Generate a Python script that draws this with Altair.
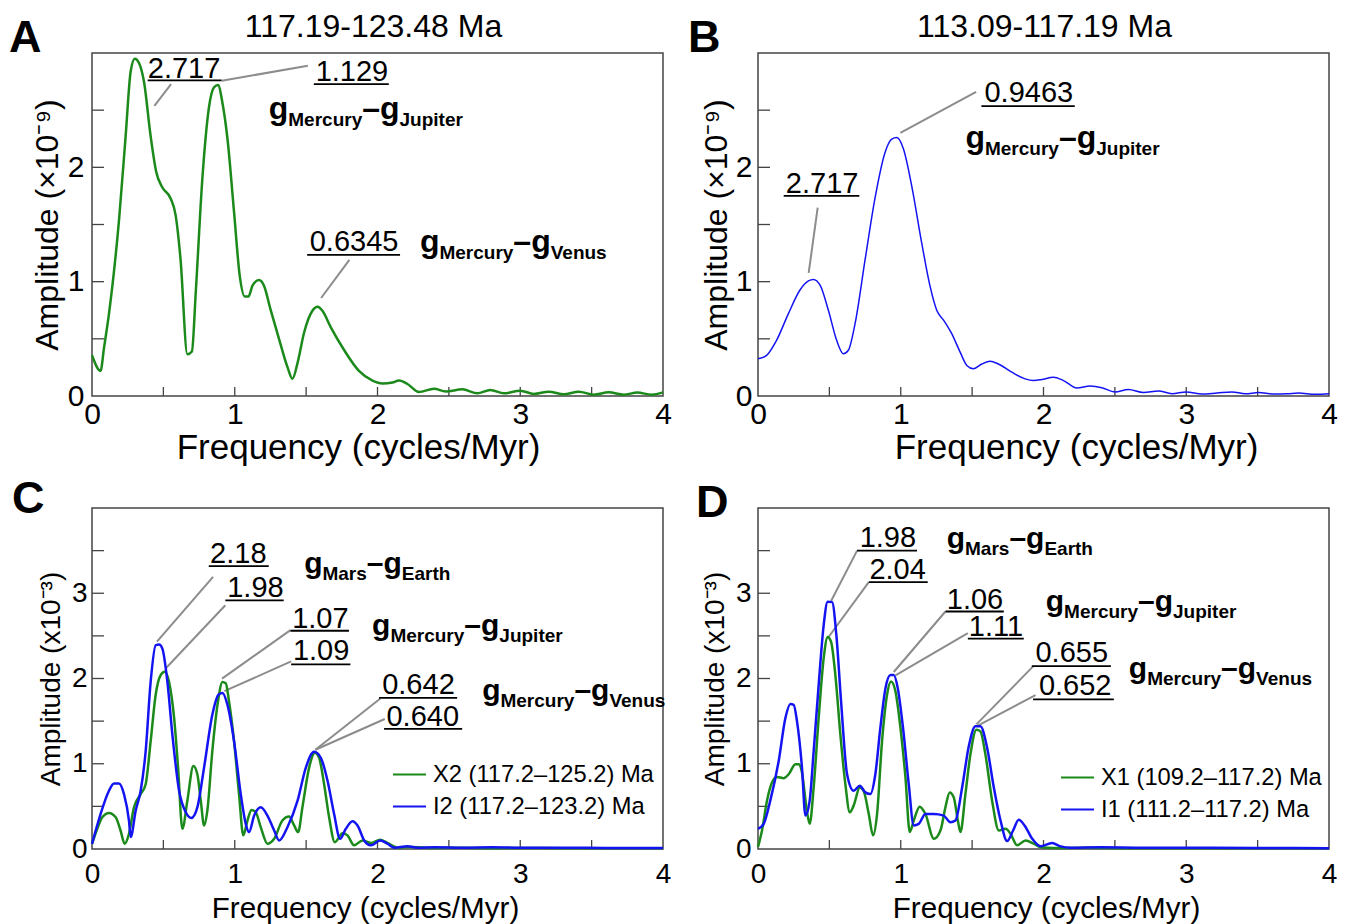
import altair as alt
import pandas as pd

FONT = "Liberation Sans"
GREEN = "#1b8a1b"
BLUE = "#1414f2"
GRAY = "#8c8c8c"
FRAME = "#444444"

W = 571
H_TOP = 343
H_BOT = 341

# ---------------- data: panel A (117.19-123.48 Ma) ----------------
A_FREQ = [0, 0.06, 0.084, 0.12, 0.19, 0.236, 0.271, 0.30, 0.33, 0.364, 0.41, 0.45, 0.49, 0.55,
          0.586, 0.62, 0.668, 0.70, 0.727, 0.773, 0.82, 0.855, 0.883, 0.913, 0.949, 0.995,
          1.035, 1.07, 1.096, 1.124, 1.17, 1.205, 1.25, 1.31, 1.37, 1.404, 1.44, 1.486, 1.544,
          1.58, 1.614, 1.673, 1.767, 1.87, 1.965, 2.035, 2.105, 2.15, 2.21, 2.29, 2.396, 2.478,
          2.594, 2.70, 2.79, 2.886, 3.0, 3.095, 3.2, 3.305, 3.41, 3.515, 3.62, 3.725, 3.82,
          3.92, 4.0]
A_AMP = [0.357, 0.22, 0.42, 0.73, 1.55, 2.28, 2.84, 2.95, 2.91, 2.75, 2.28, 1.96, 1.83, 1.73,
         1.58, 1.20, 0.365, 0.39, 0.91, 1.90, 2.53, 2.70, 2.72, 2.57, 2.25, 1.61,
         1.05, 0.87, 0.87, 0.965, 1.015, 0.965, 0.76, 0.50, 0.25, 0.15, 0.29, 0.555, 0.745,
         0.78, 0.745, 0.60, 0.40, 0.22, 0.135, 0.11, 0.118, 0.135, 0.105, 0.035, 0.064, 0.04,
         0.058, 0.023, 0.053, 0.023, 0.047, 0.018, 0.038, 0.015, 0.038, 0.012, 0.032, 0.012, 0.03,
         0.012, 0.032]

# ---------------- data: panel B (113.09-117.19 Ma) ----------------
B_FREQ = [0, 0.06, 0.13, 0.213, 0.294, 0.353, 0.388, 0.435, 0.493, 0.551, 0.598, 0.633, 0.68,
          0.75, 0.82, 0.89, 0.937, 0.972, 1.019, 1.077, 1.147, 1.206, 1.252, 1.30, 1.357, 1.416,
          1.463, 1.509, 1.568, 1.626, 1.684, 1.778, 1.871, 1.93, 1.988, 2.07, 2.14, 2.234, 2.327,
          2.409, 2.5, 2.595, 2.70, 2.805, 2.9, 3.0, 3.11, 3.215, 3.32, 3.414, 3.507, 3.612, 3.706,
          3.787, 3.904, 4.0]
B_AMP = [0.325, 0.355, 0.487, 0.72, 0.927, 1.006, 1.02, 0.97, 0.75, 0.487, 0.37, 0.40, 0.633,
         1.19, 1.733, 2.13, 2.246, 2.26, 2.16, 1.836, 1.337, 0.956, 0.75, 0.663, 0.545, 0.384,
         0.267, 0.238, 0.28, 0.305, 0.28, 0.208, 0.15, 0.135, 0.144, 0.164, 0.135, 0.07, 0.088,
         0.073, 0.035, 0.056, 0.03, 0.044, 0.02, 0.035, 0.018, 0.026, 0.035, 0.02, 0.03, 0.018, 0.02,
         0.026, 0.015, 0.02]

# ---------------- data: panel C ----------------
C_NAMES = ["X2 (117.2–125.2) Ma", "I2 (117.2–123.2) Ma"]
C_X_FREQ = [0, 0.037, 0.072, 0.119, 0.166, 0.20, 0.229, 0.259, 0.294, 0.341, 0.376, 0.411, 0.446,
            0.481, 0.509, 0.54, 0.575, 0.603, 0.633, 0.668, 0.71, 0.738, 0.762, 0.785, 0.808,
            0.843, 0.879, 0.914, 0.937, 0.96, 0.995, 1.03, 1.06, 1.089, 1.117, 1.147, 1.182,
            1.229, 1.276, 1.334, 1.381, 1.416, 1.444, 1.474, 1.521, 1.561, 1.591, 1.626, 1.661,
            1.701, 1.755, 1.79, 1.836, 1.895, 1.953, 2.019, 2.08, 2.14, 2.234, 2.4, 2.6, 2.8, 3.0,
            3.3, 3.6, 4.0]
C_X_AMP = [0.06, 0.237, 0.373, 0.423, 0.373, 0.217, 0.062, 0.178, 0.489, 0.644, 0.76, 1.266, 1.81,
           2.04, 2.08, 1.96, 1.54, 0.955, 0.237, 0.567, 0.974, 0.877, 0.567, 0.276, 0.45,
           1.149, 1.69, 1.96, 1.945, 1.73, 1.266, 0.644, 0.16, 0.334, 0.458, 0.431, 0.256,
           0.062, 0.12, 0.334, 0.38, 0.276, 0.198, 0.489, 0.955, 1.13, 1.07, 0.76, 0.373,
           0.08, 0.186, 0.159, 0.043, 0.10, 0.07, 0.109, 0.062, 0.016, 0.023, 0.012, 0.015, 0.01, 0.012,
           0.01, 0.01, 0.01]
C_I_FREQ = [0, 0.06, 0.119, 0.154, 0.189, 0.224, 0.259, 0.271, 0.306, 0.341, 0.376, 0.411, 0.446,
            0.47, 0.493, 0.528, 0.563, 0.61, 0.657, 0.696, 0.738, 0.785, 0.843, 0.886, 0.914,
            0.949, 0.995, 1.042, 1.077, 1.10, 1.136, 1.182, 1.229, 1.276, 1.311, 1.369, 1.44,
            1.498, 1.556, 1.603, 1.65, 1.696, 1.738, 1.778, 1.825, 1.86, 1.907, 1.953, 2.019,
            2.07, 2.117, 2.21, 2.28, 2.4, 2.6, 2.8, 3.0, 3.3, 3.6, 4.0]
C_I_AMP = [0.06, 0.41, 0.683, 0.769, 0.769, 0.644, 0.334, 0.14, 0.45, 0.683, 1.149, 1.964, 2.39,
           2.40, 2.35, 1.964, 1.343, 0.683, 0.431, 0.365, 0.489, 0.955, 1.576, 1.81, 1.83,
           1.69, 1.266, 0.644, 0.295, 0.198, 0.392, 0.489, 0.392, 0.217, 0.10, 0.256, 0.567,
           0.955, 1.14, 1.07, 0.80, 0.41, 0.12, 0.237, 0.326, 0.276, 0.10, 0.043, 0.10,
           0.062, 0.016, 0.031, 0.016, 0.02, 0.015, 0.02, 0.015, 0.015, 0.012, 0.012]

# ---------------- data: panel D ----------------
D_NAMES = ["X1 (109.2–117.2) Ma", "I1 (111.2–117.2) Ma"]
D_X_FREQ = [0, 0.028, 0.063, 0.098, 0.133, 0.18, 0.215, 0.262, 0.285, 0.308, 0.339, 0.362, 0.39,
            0.425, 0.46, 0.488, 0.512, 0.542, 0.577, 0.612, 0.643, 0.67, 0.713, 0.74, 0.776,
            0.806, 0.834, 0.869, 0.904, 0.932, 0.963, 0.998, 1.033, 1.063, 1.091, 1.133, 1.173,
            1.232, 1.278, 1.313, 1.343, 1.371, 1.40, 1.418, 1.453, 1.488, 1.53, 1.558, 1.593,
            1.64, 1.687, 1.734, 1.769, 1.815, 1.874, 1.932, 1.979, 2.07, 2.3, 2.6, 3.0, 3.5, 4.0]
D_X_AMP = [0.023, 0.217, 0.567, 0.78, 0.846, 0.83, 0.877, 0.994, 0.994, 0.897, 0.489, 0.295, 0.722,
           1.537, 2.236, 2.488, 2.43, 2.04, 1.343, 0.76, 0.431, 0.509, 0.722, 0.683, 0.41,
           0.16, 0.41, 1.266, 1.81, 1.964, 1.848, 1.42, 0.839, 0.198, 0.334, 0.497, 0.41,
           0.12, 0.217, 0.489, 0.664, 0.606, 0.334, 0.198, 0.644, 1.11, 1.40, 1.38, 1.11,
           0.567, 0.217, 0.237, 0.179, 0.043, 0.10, 0.062, 0.023, 0.012, 0.015, 0.01, 0.01, 0.01, 0.01]
D_I_FREQ = [0, 0.04, 0.086, 0.145, 0.192, 0.227, 0.25, 0.273, 0.308, 0.332, 0.362, 0.39, 0.425,
            0.46, 0.488, 0.519, 0.549, 0.582, 0.624, 0.67, 0.713, 0.752, 0.787, 0.822, 0.857,
            0.893, 0.928, 0.951, 0.979, 1.016, 1.056, 1.091, 1.126, 1.173, 1.231, 1.301, 1.348,
            1.383, 1.43, 1.477, 1.523, 1.558, 1.605, 1.652, 1.699, 1.745, 1.787, 1.827, 1.867,
            1.921, 1.979, 2.06, 2.12, 2.19, 2.4, 2.7, 3.0, 3.5, 4.0]
D_I_AMP = [0.237, 0.295, 0.567, 1.033, 1.537, 1.70, 1.69, 1.5, 0.955, 0.392, 0.567, 1.149, 1.925,
           2.624, 2.90, 2.896, 2.508, 1.73, 0.877, 0.683, 0.741, 0.664, 0.644, 0.877, 1.42,
           1.887, 2.04, 2.04, 1.887, 1.42, 0.76, 0.276, 0.295, 0.41, 0.41, 0.392, 0.314,
           0.334, 0.722, 1.207, 1.44, 1.44, 1.188, 0.722, 0.334, 0.093, 0.217, 0.342, 0.276,
           0.12, 0.031, 0.07, 0.031, 0.016, 0.02, 0.015, 0.015, 0.012, 0.01]

# ---------------- annotations (text, x, y) in data units ----------------
A_NUMS = [("2.717", 0.645, 2.785), ("1.129", 1.821, 2.757), ("0.6345", 1.836, 1.272)]
A_UNDER = [(0.39, 0.908, 2.76), (1.554, 2.079, 2.728), (1.507, 2.158, 1.234)]
A_LEAD = [(0.437, 2.538, 0.554, 2.728), (0.909, 2.757, 1.512, 2.889), (1.803, 1.19, 1.605, 0.857)]
A_FORM = [(1.238, 2.425, "Mercury", "Jupiter"), (2.297, 1.263, "Mercury", "Venus")]

B_NUMS = [("0.9463", 1.897, 2.571), ("2.717", 0.449, 1.779)]
B_UNDER = [(1.565, 2.219, 2.536), (0.18, 0.71, 1.75)]
B_LEAD = [(0.997, 2.302, 1.528, 2.659), (0.418, 1.647, 0.355, 1.076)]
B_FORM = [(1.453, 2.172, "Mercury", "Jupiter")]

C_NUMS = [("2.18", 1.025, 3.356), ("1.98", 1.145, 2.96), ("1.07", 1.60, 2.591),
          ("1.09", 1.605, 2.212), ("0.642", 2.287, 1.823), ("0.640", 2.317, 1.447)]
C_UNDER = [(0.818, 1.238, 3.318), (0.934, 1.343, 2.917), (1.39, 1.80, 2.56),
           (1.395, 1.81, 2.165), (2.011, 2.558, 1.773), (2.046, 2.593, 1.409)]
C_LEAD = [(0.848, 3.193, 0.455, 2.433), (0.934, 2.859, 0.514, 2.114), (1.39, 2.568, 0.911, 1.998),
          (1.395, 2.2, 0.927, 1.851), (2.02, 1.765, 1.565, 1.164), (2.051, 1.525, 1.565, 1.164)]
C_FORM = [(1.486, 3.24, "Mars", "Earth"), (1.962, 2.506, "Mercury", "Jupiter"),
          (2.733, 1.75, "Mercury", "Venus")]

D_NUMS = [("1.98", 0.91, 3.539), ("2.04", 0.978, 3.162), ("1.06", 1.52, 2.818),
          ("1.11", 1.667, 2.495), ("0.655", 2.198, 2.192), ("0.652", 2.222, 1.808)]
D_UNDER = [(0.694, 1.114, 3.50), (0.776, 1.189, 3.131), (1.313, 1.722, 2.786),
           (1.47, 1.862, 2.468), (1.918, 2.472, 2.145), (1.927, 2.493, 1.755)]
D_LEAD = [(0.694, 3.5, 0.512, 2.91), (0.776, 3.131, 0.484, 2.463), (1.313, 2.786, 0.951, 2.076),
          (1.47, 2.533, 0.963, 2.037), (1.927, 2.142, 1.53, 1.462), (1.944, 1.805, 1.54, 1.447)]
D_FORM = [(1.322, 3.535, "Mars", "Earth"), (2.016, 2.797, "Mercury", "Jupiter"),
          (2.598, 2.005, "Mercury", "Venus")]

BOLD_W = {'g': .611, 'M': .833, 'e': .556, 'r': .389, 'c': .556, 'u': .611, 'y': .556,
          '–': .556, 'J': .556, 'p': .611, 'i': .278, 't': .333, 'V': .667, 'n': .611,
          's': .556, 'a': .556, 'h': .611, 'E': .667}


def text_w(s, size):
    return sum(BOLD_W.get(c, 0.6) for c in s) * size


def panel(lines, ymax, H, ylabels, ytitle, letter, letter_xy, title, title_dx, nums, under, lead,
          forms, fs_lab, fs_xtit, fs_ytit, fs_num, fs_main, fs_sub, lab_pad_x, tit_pad_x,
          lab_pad_y, tit_pad_y, xtitle_x, legend_cfg=None, line_width=2.5):
    ppx = W / 4.0
    ppy = H / ymax
    xenc = alt.X("f:Q", scale=alt.Scale(domain=[0, 4], nice=False, zero=False),
                 axis=alt.Axis(values=[0, 1, 2, 3, 4], format="d", title="Frequency (cycles/Myr)",
                               labelFontSize=fs_lab, titleFontSize=fs_xtit, labelPadding=lab_pad_x,
                               titlePadding=tit_pad_x, labelFlush=False, titleX=xtitle_x,
                               titleAlign="center"))
    yenc = alt.Y("a:Q", scale=alt.Scale(domain=[0, ymax], nice=False, zero=False),
                 axis=alt.Axis(values=ylabels, format="d", title=ytitle,
                               labelFontSize=fs_lab, titleFontSize=fs_ytit, labelPadding=lab_pad_y,
                               titlePadding=tit_pad_y, labelFlush=False))
    layers = []
    # inward ticks
    xt = pd.DataFrame({"f": [i * 0.5 for i in range(1, 8)]})
    layers.append(alt.Chart(xt).mark_rule(color=FRAME, strokeWidth=1.3).encode(
        x=xenc, y=alt.value(H), y2=alt.value(H - 9)))
    yt = pd.DataFrame({"a": [i * 0.5 for i in range(1, int(ymax * 2))]})
    layers.append(alt.Chart(yt).mark_rule(color=FRAME, strokeWidth=1.3).encode(
        y=yenc, x=alt.value(0), x2=alt.value(12)))
    # leader lines
    ld = pd.DataFrame(lead, columns=["f", "a", "f2", "a2"])
    layers.append(alt.Chart(ld).mark_rule(color=GRAY, strokeWidth=2).encode(
        x=xenc, y=yenc, x2="f2:Q", y2="a2:Q"))
    # underlines
    ud = pd.DataFrame(under, columns=["f", "f2", "a"])
    layers.append(alt.Chart(ud).mark_rule(color="black", strokeWidth=1.8).encode(
        x=xenc, x2="f2:Q", y=yenc))
    # spectra
    if legend_cfg is None:
        name, fr, am, col = lines[0]
        df = pd.DataFrame({"f": fr, "a": am})
        layers.append(alt.Chart(df).mark_line(color=col, strokeWidth=line_width,
                                              interpolate="monotone").encode(x=xenc, y=yenc))
    else:
        rows = []
        for k, (name, fr, am, col) in enumerate(lines):
            for f_, a_ in zip(fr, am):
                rows.append({"f": f_, "a": a_, "s": name, "k": k})
        df = pd.DataFrame(rows)
        layers.append(alt.Chart(df).mark_line(strokeWidth=line_width, interpolate="monotone").encode(
            x=xenc, y=yenc,
            color=alt.Color("s:N", sort=[l[0] for l in lines],
                            scale=alt.Scale(domain=[l[0] for l in lines], range=[l[3] for l in lines]),
                            legend=alt.Legend(title=None, orient="none", legendX=legend_cfg[0],
                                              legendY=legend_cfg[1], symbolType="stroke",
                                              symbolSize=1089, symbolStrokeWidth=2,
                                              labelFontSize=23.7, labelFont=FONT, labelColor="black",
                                              labelOffset=6, rowPadding=2, padding=0,
                                              labelLimit=400)),
            order=alt.Order("k:Q")))
    # numbers
    nd = pd.DataFrame(nums, columns=["t", "f", "a"])
    layers.append(alt.Chart(nd).mark_text(font=FONT, fontSize=fs_num, align="center",
                                          baseline="alphabetic", color="black").encode(
        x=xenc, y=yenc, text="t:N"))
    # formulas  g_sub1 – g_sub2
    mains, subs = [], []
    for (x0, y0, s1, s2) in forms:
        x = x0
        for txt, kind in [("g", "m"), (s1, "s"), ("–g", "m"), (s2, "s")]:
            if kind == "m":
                mains.append({"f": x, "a": y0, "t": txt})
                x += text_w(txt, fs_main) / ppx
            else:
                subs.append({"f": x, "a": y0 - 7.0 / ppy, "t": txt})
                x += text_w(txt, fs_sub) / ppx
    layers.append(alt.Chart(pd.DataFrame(mains)).mark_text(
        font=FONT, fontSize=fs_main, fontWeight="bold", align="left", baseline="alphabetic",
        color="black").encode(x=xenc, y=yenc, text="t:N"))
    layers.append(alt.Chart(pd.DataFrame(subs)).mark_text(
        font=FONT, fontSize=fs_sub, fontWeight="bold", align="left", baseline="alphabetic",
        color="black").encode(x=xenc, y=yenc, text="t:N"))
    # panel letter
    layers.append(alt.Chart(pd.DataFrame({"t": [letter]})).mark_text(
        font=FONT, fontSize=45, fontWeight="bold", align="left", baseline="alphabetic",
        color="black").encode(x=alt.value(letter_xy[0]), y=alt.value(letter_xy[1]), text="t:N"))
    if title:
        layers.append(alt.Chart(pd.DataFrame({"t": [title]})).mark_text(
            font=FONT, fontSize=32, align="center", baseline="alphabetic",
            color="black").encode(x=alt.value(W / 2 + title_dx), y=alt.value(-16), text="t:N"))
    return alt.layer(*layers).properties(width=W, height=H)


pA = panel([("A", A_FREQ, A_AMP, GREEN)], 3, H_TOP, [0, 1, 2], "Amplitude (×10⁻⁹)", "A", (-83, -1),
           "117.19-123.48 Ma", -4, A_NUMS, A_UNDER, A_LEAD, A_FORM,
           fs_lab=30, fs_xtit=35, fs_ytit=32, fs_num=29, fs_main=32, fs_sub=19,
           lab_pad_x=3, tit_pad_x=1, lab_pad_y=8, tit_pad_y=3, xtitle_x=266, line_width=2.5)
pB = panel([("B", B_FREQ, B_AMP, BLUE)], 3, H_TOP, [0, 1, 2], "Amplitude (×10⁻⁹)", "B", (-70, -1),
           "113.09-117.19 Ma", 1, B_NUMS, B_UNDER, B_LEAD, B_FORM,
           fs_lab=30, fs_xtit=35, fs_ytit=32, fs_num=29, fs_main=32, fs_sub=19,
           lab_pad_x=3, tit_pad_x=1, lab_pad_y=6, tit_pad_y=2, xtitle_x=318, line_width=1.5)
pC = panel([(C_NAMES[0], C_X_FREQ, C_X_AMP, GREEN), (C_NAMES[1], C_I_FREQ, C_I_AMP, BLUE)],
           4, H_BOT, [0, 1, 2, 3], "Amplitude (x10⁻³)", "C", (-80, 5), None, 0,
           C_NUMS, C_UNDER, C_LEAD, C_FORM,
           fs_lab=28, fs_xtit=29.6, fs_ytit=28, fs_num=29, fs_main=30, fs_sub=19,
           lab_pad_x=11, tit_pad_x=6, lab_pad_y=5, tit_pad_y=6, xtitle_x=273, legend_cfg=(300, 249))
pD = panel([(D_NAMES[0], D_X_FREQ, D_X_AMP, GREEN), (D_NAMES[1], D_I_FREQ, D_I_AMP, BLUE)],
           4, H_BOT, [0, 1, 2, 3], "Amplitude (x10⁻³)", "D", (-62, 9), None, 0,
           D_NUMS, D_UNDER, D_LEAD, D_FORM,
           fs_lab=28, fs_xtit=29.6, fs_ytit=28, fs_num=29, fs_main=30, fs_sub=19,
           lab_pad_x=11, tit_pad_x=6, lab_pad_y=7, tit_pad_y=6, xtitle_x=288, legend_cfg=(302, 252))

chart = alt.concat(pA, pB, pC, pD, columns=2, spacing={"row": 112, "column": 95},
                   bounds="flush").resolve_scale(
    color="independent", x="independent", y="independent").properties(
    padding={"top": 2, "left": 0, "right": 0, "bottom": 0}).configure_view(
    stroke=FRAME, strokeWidth=1.5).configure_axis(
    labelFont=FONT, titleFont=FONT, labelColor="black", titleColor="black",
    titleFontWeight="normal", ticks=False, domain=False, grid=False)

chart.save("out.html", embed_options={"renderer": "svg", "actions": False})
